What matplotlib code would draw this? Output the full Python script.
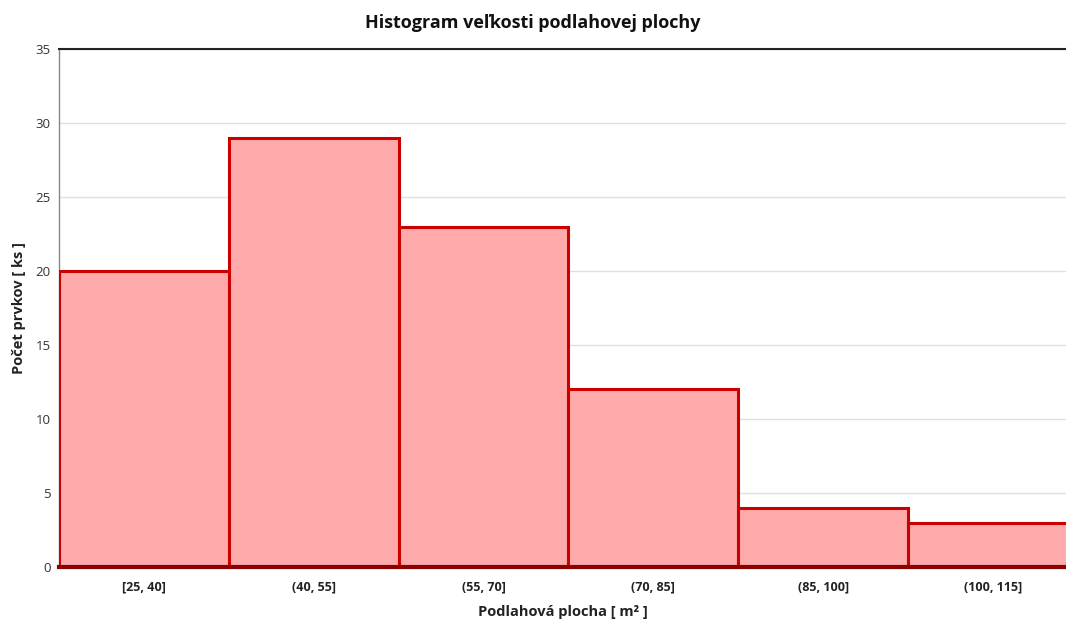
import matplotlib
matplotlib.use("Agg")
import matplotlib.pyplot as plt

# histogram data
bins = ["[25, 40]", "(40, 55]", "(55, 70]", "(70, 85]", "(85, 100]", "(100, 115]"]
counts = [20, 29, 23, 12, 4, 3]
yticks = [0, 5, 10, 15, 20, 25, 30, 35]

plt.rcParams['font.family'] = ['Open Sans', 'DejaVu Sans']

fig = plt.figure(figsize=(10.66, 6.23), dpi=100)
ax = fig.add_axes([59/1066, 56/623, 1 - 59/1066, (567-49)/623])

pos = list(range(len(counts)))
ax.bar(pos, counts, width=1.0, align='edge', color='#ffaaaa',
       edgecolor='#cc0000', linewidth=2.2, zorder=3)

ax.set_xlim(0, 5.93)
ax.set_ylim(0, 35)
ax.set_yticks(yticks)
ax.set_yticklabels([str(v) for v in yticks], color='#333333', fontsize=9.5)
ax.set_xticks([p + 0.5 for p in pos])
ax.set_xticklabels(bins, fontsize=9, fontweight='bold', color='#222222')
ax.tick_params(axis='both', length=0, pad=10)
ax.tick_params(axis='y', pad=6)

ax.grid(axis='y', color='#e0e0e0', linewidth=1, zorder=0)
ax.spines['right'].set_visible(False)
ax.spines['top'].set_color('#222222')
ax.spines['top'].set_linewidth(1.5)
ax.spines['left'].set_color('#888888')
ax.spines['left'].set_linewidth(1)
ax.spines['bottom'].set_color('#8b0000')
ax.spines['bottom'].set_linewidth(3)
ax.spines['bottom'].set_zorder(5)

ax.set_xlabel("Podlahová plocha [ m² ]", fontsize=10.5, fontweight='bold',
              color='#222222', labelpad=8)
ax.set_ylabel("Počet prvkov [ ks ]", fontsize=10.5, fontweight='bold',
              color='#222222', labelpad=7)
fig.text(0.5, 1 - 23/623, "Histogram veľkosti podlahovej plochy", ha='center',
         va='center', fontsize=13, fontweight='bold', color='#111111')

fig.savefig("out.png", dpi=100)
